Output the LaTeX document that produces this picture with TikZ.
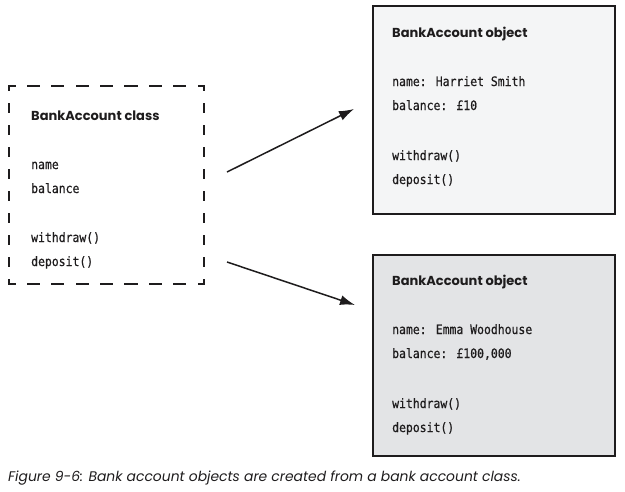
\documentclass[tikz,border=0pt]{standalone}
\usepackage{fontspec}
\setmainfont{Poppins}
\newfontfamily\monof{DejaVu Sans Mono}[FakeStretch=0.88, FakeBold=0.6]
\newfontfamily\capf{Poppins}
\usetikzlibrary{arrows.meta}
\definecolor{fa}{HTML}{F4F5F6}
\definecolor{fb}{HTML}{E3E4E6}
\definecolor{ink}{HTML}{1E1C1D}
\begin{document}
\begin{tikzpicture}[x=1pt,y=-1pt,
  box/.style={draw=ink, line width=1.8pt, inner sep=0, anchor=north west},
  txt/.style={anchor=base west, inner sep=0, text=ink, font=\monof\fontsize{13}{15}\selectfont},
  ttl/.style={anchor=base west, inner sep=0, text=ink, font=\bfseries\fontsize{13}{15}\selectfont},
  dh/.style={draw=ink, line width=1.9pt, line cap=rect, dash pattern=on 11.4pt off 13pt, dash phase=5.7pt},
  dv/.style={draw=ink, line width=1.9pt, line cap=rect, dash pattern=on 8pt off 14pt, dash phase=4pt},
  arr/.style={draw=ink, line width=1.5pt, -{Latex[length=15pt,width=10pt]}}]
\useasboundingbox (0,0) rectangle (625,491);
% left class box
\node[inner sep=0, minimum width=195pt, minimum height=198pt, anchor=north west] (cls) at (9,86) {};
\draw[dh] (cls.north west) -- (cls.north east);
\draw[dh] (cls.south west) -- (cls.south east);
\draw[dv] (cls.north west) -- (cls.south west);
\draw[dv] (cls.north east) -- (cls.south east);
\node[ttl] (clsT) at (31,120) {BankAccount class};
\node[txt] (clsA) at (31,169) {name};
\node[txt] (clsB) at (31,193) {balance};
\node[txt] (clsC) at (31,242) {withdraw()};
\node[txt] (clsD) at (31,266) {deposit()};
% object 1
\node[box, fill=fa, minimum width=242pt, minimum height=208pt] (ob1) at (372,5) {};
\node[ttl] (ob1T) at (392,37) {BankAccount object};
\node[txt] (ob1A) at (392,86) {name: Harriet Smith};
\node[txt] (ob1B) at (392,110) {balance: £10};
\node[txt] (ob1C) at (392,160) {withdraw()};
\node[txt] (ob1D) at (392,184) {deposit()};
% object 2
\node[box, fill=fb, minimum width=242pt, minimum height=201pt] (ob2) at (372,254) {};
\node[ttl] (ob2T) at (392,285) {BankAccount object};
\node[txt] (ob2A) at (392,334) {name: Emma Woodhouse};
\node[txt] (ob2B) at (392,358) {balance: £100,000};
\node[txt] (ob2C) at (392,408) {withdraw()};
\node[txt] (ob2D) at (392,432) {deposit()};
% arrows
\coordinate (a1s) at (227,172);
\coordinate (a1e) at (354,109);
\coordinate (a2s) at (227,262);
\coordinate (a2e) at (355,305);
\draw[arr] (a1s) -- (a1e);
\draw[arr] (a2s) -- (a2e);
% caption
\node[anchor=base west, inner sep=0, text=ink, font=\capf\itshape\fontsize{13.9}{16}\selectfont] (cap) at (8,481) {Figure 9-6: Bank account objects are created from a bank account class.};
\end{tikzpicture}
\end{document}
